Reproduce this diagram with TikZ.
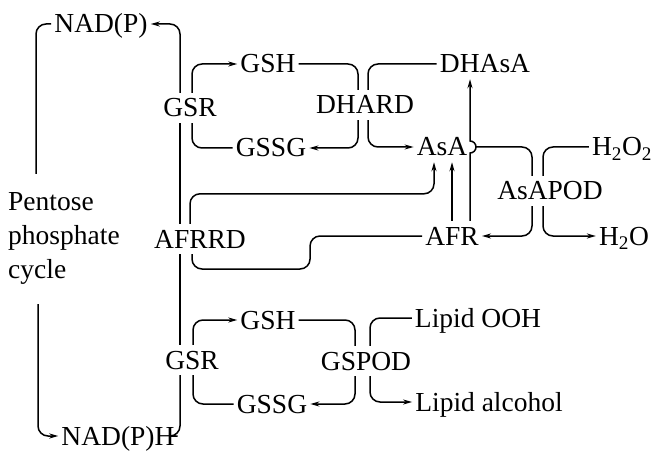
\documentclass[tikz,border=0pt]{standalone}
\usepackage{fontspec}
\setmainfont{Liberation Serif}
\usetikzlibrary{arrows.meta,calc}

\begin{document}
\begin{tikzpicture}[
  x=1pt,y=1pt,
  chem/.style={inner xsep=3pt,inner ysep=6pt,text height=18pt,text depth=0pt,
               font=\fontsize{27.5}{33}\selectfont},
  link/.style={line width=1.5pt,rounded corners=10pt},
  arr/.style={link,-{Stealth[length=9pt,width=5pt]}}
]
\useasboundingbox (0,0) rectangle (652,-454);

% labels
\node[chem] (nadp)   at (101,-24)  {NAD(P)};
\node[chem] (gshT)   at (268,-64)  {GSH};
\node[chem] (dhasa)  at (485,-64)  {DHAsA};
\node[chem] (gsrT)   at (190,-108) {GSR};
\node[chem] (dhard)  at (365,-105) {DHARD};
\node[chem] (gssgT)  at (271,-148) {GSSG};
\node[chem] (asa)    at (442,-147) {AsA};
\node[chem] (h2o2)   at (622,-147) {H\textsubscript{2}O\textsubscript{2}};
\node[chem] (asapod) at (550,-191) {AsAPOD};
\node[chem] (afrrd)  at (200,-239) {AFRRD};
\node[chem] (afr)    at (452,-236) {AFR};
\node[chem] (h2o)    at (624,-236) {H\textsubscript{2}O};
\node[chem] (gshB)   at (268,-320) {GSH};
\node[chem] (lipooh) at (478,-318) {Lipid OOH};
\node[chem] (gsrB)   at (192,-360) {GSR};
\node[chem] (gspod)  at (366,-361) {GSPOD};
\node[chem] (gssgB)  at (272,-404) {GSSG};
\node[chem] (lipalc) at (489,-402) {Lipid alcohol};
\node[chem] (nadph)  at (118,-436) {NAD(P)H};
\node[inner sep=3pt,anchor=west,align=left,font=\fontsize{27.5}{34}\selectfont]
  (pent) at (5,-238) {Pentose\\phosphate\\cycle};

% pentose phosphate cycle
\draw[link] ($(pent.north west)+(31,15)$) |- (nadp.west);
\draw[arr]  ($(pent.south west)+(33,-17)$) |- (nadph.west);

% NAD(P)H back to NAD(P)
\coordinate (spine) at (180,0);
\draw[link] (nadph.east) -| (spine |- gsrB.south);
\draw[link] (spine |- gsrB.north) -- (spine |- afrrd.south);
\draw[link] (spine |- afrrd.north) -- (spine |- gsrT.south);
\draw[arr]  (spine |- gsrT.north) |- (nadp.east);

% upper glutathione cycle
\draw[arr]  ([xshift=2pt]gsrT.north) |- (gshT.west);
\draw[link] (gssgT.west) -| ([xshift=2pt]gsrT.south);
\draw[link] (gshT.east) -| ([xshift=-7pt]dhard.north);
\draw[link] (dhasa.west) -| ([xshift=3pt]dhard.north);
\draw[arr]  ([xshift=-7pt]dhard.south) |- (gssgT.east);
\draw[arr]  ([xshift=3pt]dhard.south) |- (asa.west);

% ascorbate
\draw[link] ($(afr.north |- asa)+(24,0)$) -| ([xshift=-18pt]asapod.north);
\draw[link] (h2o2.west) -| ([xshift=-7pt]asapod.north);
\draw[arr]  ([xshift=-18pt]asapod.south) |- (afr.east);
\draw[arr]  ([xshift=-7pt]asapod.south) |- (h2o.west);
\draw[arr]  (afr.north) -- (afr.north |- asa.south);
\draw[arr,sharp corners] ([xshift=18pt]afr.north) -- ($(afr.north |- asa)+(18,-6)$)
  arc[start angle=-90,end angle=90,radius=6pt] -- ($(afr.north |- dhasa.south)+(18,0)$);
\draw[arr]  ([xshift=-10pt]afrrd.north) -- ++(0,30) -| ([xshift=-8pt]asa.south);
\draw[link] (afr.west) -- ++(-112,0) -- ++(0,-33) -| ([xshift=-8pt]afrrd.south);

% lower glutathione cycle
\draw[arr]  ([xshift=1pt]gsrB.north) |- (gshB.west);
\draw[link] (gssgB.west) -| ([xshift=1pt]gsrB.south);
\draw[link] (gshB.east) -| ([xshift=-11pt]gspod.north);
\draw[link] (lipooh.west) -| ([xshift=4pt]gspod.north);
\draw[arr]  ([xshift=-11pt]gspod.south) |- (gssgB.east);
\draw[arr]  ([xshift=4pt]gspod.south) |- (lipalc.west);
\end{tikzpicture}
\end{document}
